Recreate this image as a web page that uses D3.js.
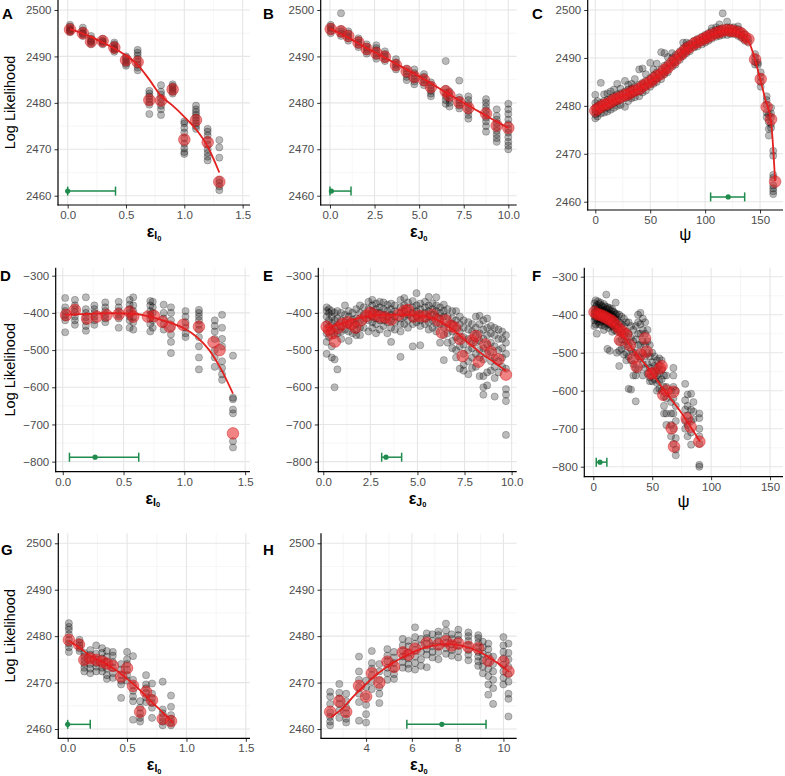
<!DOCTYPE html>
<html><head><meta charset="utf-8">
<script src="https://cdn.jsdelivr.net/npm/d3@7"></script>
<style>
body{margin:0;background:#fff;}
svg{display:block;font-family:"Liberation Sans",Arial,Helvetica,sans-serif;}
</style></head>
<body>
<svg id="chart" width="785" height="776"></svg>
<script>
// ---------------- DATA ----------------
const yTicksTop = [2460, 2470, 2480, 2490, 2500];
const yTicksMid = [-800, -700, -600, -500, -400, -300];
const xTicksEpsI = [0.0, 0.5, 1.0, 1.5];
const xTicksEpsJ = [0.0, 2.5, 5.0, 7.5, 10.0];
const xTicksPsi = [0, 50, 100, 150];
const xTicksEpsJ2 = [4, 6, 8, 10];
const panelLabels = ["A","B","C","D","E","F","G","H"];

// gray points: "x: y y y | x: y y ..."
const grayA = `0.02:2495.2 2495.6 2496.0 2496.4 2496.8 2495.8 2495.4|0.13:2494.4 2494.8 2495.2 2495.6 2496.2 2494.9|0.2:2492.6 2493.0 2493.4 2493.8 2494.4 2493.2|0.3:2492.6 2493.0 2493.4 2493.8 2493.2|0.4:2491.0 2491.4 2491.8 2492.2 2492.6 2493.0 2491.6|0.5:2488.0 2488.4 2488.8 2489.2 2489.6 2490.0|0.6:2487.0 2487.6 2488.2 2488.8 2489.4 2490.2 2490.8 2491.4|0.7:2477.6 2479.6 2480.2 2480.8 2481.4 2482.0 2482.6|0.8:2477.4 2478.6 2479.4 2480.2 2481.0 2481.8 2482.4 2483.8|0.9:2482.0 2482.4 2482.8 2483.2 2483.6 2484.0|1.0:2469.0 2469.4 2470.2 2471.2 2472.4 2473.6 2474.6 2475.6 2476.0|1.1:2474.4 2475.0 2475.6 2476.2 2476.8 2477.4 2478.0 2478.6 2479.4|1.2:2467.6 2468.4 2469.2 2470.0 2471.0 2472.0 2473.0 2473.8 2474.4|1.3:2461.2 2462.0 2462.8 2463.4 2468.2 2470.4 2472.0`;
const redAx = [0.02, 0.13, 0.2, 0.3, 0.4, 0.5, 0.6, 0.7, 0.8, 0.9, 1.0, 1.1, 1.2, 1.3];
const redAy = [2495.8, 2495.0, 2493.2, 2493.3, 2491.9, 2489.2, 2488.8, 2480.6, 2480.5, 2482.9, 2472.1, 2476.3, 2471.5, 2463.0];
const lineAx = [0.02, 0.1, 0.2, 0.3, 0.4, 0.5, 0.6, 0.7, 0.8, 0.9, 1.0, 1.1, 1.2, 1.3];
const lineAy = [2495.9, 2495.2, 2494.2, 2493.0, 2491.7, 2490.2, 2488.2, 2485.0, 2481.5, 2479.4, 2477.0, 2474.3, 2470.6, 2465.0];
const errA = [0.0, 0.0, 0.41, 2461]; // center, low, high, y

const grayB = `0.04:2495.0 2495.5 2496.0 2496.4 2496.8|0.62:2494.4 2494.9 2495.4 2495.9 2499.3|1.03:2493.4 2493.9 2494.4 2494.9 2495.4|1.6:2492.0 2492.5 2493.0 2493.5 2493.9|2.06:2490.6 2491.1 2491.6 2492.1 2492.6|2.6:2489.5 2490.1 2490.7 2491.3 2491.8 2492.4|3.08:2489.0 2489.5 2490.0 2490.5 2491.1|3.7:2487.2 2487.7 2488.2 2488.7 2489.4|4.3:2484.9 2485.6 2486.2 2486.8 2487.4|4.73:2484.0 2484.6 2485.2 2485.8 2486.4 2487.2|5.27:2483.8 2484.4 2485.0 2485.6 2486.2|5.66:2481.4 2482.0 2482.6 2483.2 2483.8 2484.4|6.49:2479.8 2480.6 2481.4 2482.2 2483.0 2489.0|6.7:2479.2 2480.0 2480.8 2481.6 2482.4|7.25:2478.8 2479.4 2480.0 2480.6 2481.2 2484.8|7.76:2476.6 2477.4 2478.2 2479.0 2479.8 2480.6 2481.4|8.75:2473.8 2475.0 2476.0 2476.8 2477.6 2478.4 2479.2 2480.0 2480.8|9.35:2471.6 2472.4 2473.2 2474.0 2474.8 2475.6 2476.4 2477.2 2478.6|10.0:2470.0 2470.8 2471.6 2472.6 2473.6 2474.4 2475.4 2476.4 2477.6 2478.6 2479.8`;
const redBx = [0.04, 0.62, 1.03, 1.6, 2.06, 2.6, 3.08, 3.7, 4.3, 4.73, 5.27, 5.66, 6.49, 6.7, 7.25, 7.76, 8.75, 9.35, 10.0];
const redBy = [2495.9, 2495.4, 2494.4, 2493.0, 2491.6, 2490.7, 2489.9, 2488.1, 2486.8, 2485.6, 2484.9, 2483.4, 2482.5, 2481.6, 2480.1, 2478.9, 2477.7, 2475.1, 2474.6];
const lineBx = [0, 1, 2, 3, 4, 5, 6, 7, 8, 9, 10];
const lineBy = [2496.0, 2494.1, 2491.9, 2489.9, 2487.8, 2485.7, 2483.4, 2481.1, 2478.9, 2476.7, 2474.6];
const errB = [0.08, 0.0, 1.18, 2461];

const grayC = `0:2477.4 2478.2 2478.8 2479.6 2480.6 2482.3|2:2477.8 2478.6 2480.0 2481.0|5:2478.4 2479.2 2480.6 2484.8|8:2478.6 2479.6 2481.0 2482.4|11:2478.8 2479.6 2481.2 2482.6|14:2479.2 2480.2 2481.6 2483.0|17:2479.6 2480.6 2482.0 2483.4|20:2480.0 2481.0 2482.4 2484.6|23:2480.2 2481.2 2482.6 2483.6|27:2479.8 2481.6 2483.0 2485.2|30:2481.0 2482.0 2483.4 2484.4|33:2481.6 2482.4 2483.6 2484.6|36:2481.8 2482.8 2484.0 2485.6|40:2482.0 2483.0 2484.4 2487.6|43:2482.8 2483.8 2484.8 2487.8|46:2483.2 2484.2 2485.2 2486.6|50:2484.0 2484.8 2485.8 2489.0|53:2484.6 2485.4 2486.4 2487.6|56:2485.0 2485.8 2487.0 2488.8|60:2485.6 2486.4 2487.6 2491.2|63:2486.6 2487.2 2488.4 2491.0|66:2487.0 2487.8 2488.8 2490.2|70:2488.2 2489.0 2490.0 2491.0|73:2488.6 2489.4 2490.6|77:2489.6 2490.4 2491.4|80:2490.4 2491.0 2492.0 2493.2|83:2491.0 2491.8 2492.6 2493.2|86:2491.4 2492.2 2493.0|90:2492.2 2492.8 2493.6|93:2492.4 2493.2 2494.0|97:2492.8 2493.6 2494.4|100:2493.2 2494.0 2494.8|103:2493.6 2494.4 2495.2|106:2494.0 2494.8 2495.6 2496.2|110:2494.4 2495.0 2495.8 2496.4|113:2494.6 2495.2 2496.0 2497.0|116:2494.8 2495.4 2496.2 2499.3|120:2494.8 2495.6 2496.4 2497.6|123:2495.0 2495.6 2496.4|126:2495.0 2495.6 2496.4|130:2494.6 2495.2 2496.0 2496.6|133:2494.2 2494.8 2495.6|136:2493.6 2494.2 2495.0|139.4:2493.2 2494.0|145.5:2488.6 2489.2 2490.0 2490.8|148:2488.6 2489.0|150.6:2484.0 2485.0 2486.0 2487.0|156:2477.6 2478.6 2480.2 2481.2 2482.0|158:2473.8 2475.2 2476.6 2478.2|160:2475.4 2476.2 2477.6 2478.4 2479.6|162:2461.6 2462.2 2462.8 2463.4 2465.0 2465.6 2469.6 2470.6`;
const redCx = [0, 2, 5, 8, 11, 14, 17, 20, 23, 27, 30, 33, 36, 40, 43, 46, 50, 53, 56, 60, 63, 66, 70, 73, 77, 80, 83, 86, 90, 93, 97, 100, 103, 106, 110, 113, 116, 120, 123, 126, 130, 133, 136, 139.4, 145.5, 150.6, 156, 160, 163.7];
const redCy = [2479.0, 2479.4, 2479.8, 2480.2, 2480.4, 2480.8, 2481.3, 2481.5, 2481.8, 2482.3, 2482.4, 2482.9, 2483.2, 2483.5, 2484.1, 2484.5, 2485.0, 2485.6, 2486.2, 2486.7, 2487.5, 2488.0, 2489.0, 2489.6, 2490.6, 2491.2, 2491.9, 2492.3, 2493.0, 2493.3, 2493.8, 2494.1, 2494.5, 2494.8, 2495.2, 2495.4, 2495.7, 2495.8, 2495.7, 2495.6, 2495.4, 2495.1, 2494.4, 2493.9, 2489.7, 2485.6, 2479.8, 2477.2, 2464.2];
const lineCx = [0, 10, 20, 30, 40, 50, 60, 70, 80, 90, 100, 110, 120, 130, 135, 140, 145, 150, 155, 160, 163.7];
const lineCy = [2479.2, 2480.3, 2481.5, 2482.5, 2483.6, 2485.0, 2486.8, 2489.0, 2491.3, 2493.0, 2494.2, 2495.2, 2495.8, 2495.3, 2494.6, 2493.3, 2490.0, 2485.7, 2481.2, 2476.8, 2464.3];
const errC = [121, 105, 136, 2461];

const grayD = `0.02:-360 -385 -395 -405 -412 -420 -452|0.1:-365 -380 -390 -398 -410 -420 -432|0.19:-358 -390 -400 -412 -422 -435 -448|0.26:-380 -390 -400 -410 -420 -432|0.35:-372 -385 -395 -405 -415 -425|0.46:-370 -385 -395 -405 -415 -440|0.55:-365 -378 -390 -400 -410 -420 -440|0.58:-358 -380 -395 -412 -425 -445|0.72:-368 -380 -395 -405 -415 -430 -450|0.74:-370 -385 -400 -420 -440|0.83:-378 -400 -415 -430 -445|0.89:-385 -400 -420 -440 -458 -478 -508|1.01:-395 -410 -425 -440 -455 -465|1.12:-392 -400 -410 -420 -432 -445 -465 -490 -520 -552|1.25:-420 -435 -450 -470 -500 -520 -545|1.31:-405 -440 -470 -490 -530 -548 -565 -580|1.4:-515 -628 -632 -660 -670 -745 -762`;
const redDx = [0.027, 0.1, 0.2, 0.28, 0.36, 0.46, 0.55, 0.58, 0.7, 0.75, 0.82, 0.88, 0.99, 1.12, 1.24, 1.29, 1.4];
const redDy = [-406, -392, -415, -410, -406, -404, -397, -410, -410, -408, -424, -437, -432, -437, -479, -500, -724];
const lineDx = [0.02, 0.2, 0.4, 0.6, 0.7, 0.8, 0.9, 1.0, 1.1, 1.2, 1.3, 1.4];
const lineDy = [-405, -403, -401, -403, -409, -418, -428, -442, -464, -498, -550, -617];
const errD = [0.266, 0.055, 0.625, -788];

const grayE = `0.18:-385 -395 -410 -430 -455 -478 -510|0.3:-390 -400 -420 -440 -465|0.45:-395 -410 -428 -450 -490 -520|0.6:-400 -420 -440 -460 -600 -525|0.75:-395 -415 -435 -455 -552|0.95:-400 -420 -438 -450 -470|1.15:-380 -405 -425 -445|1.35:-395 -410 -430 -450 -475|1.55:-400 -418 -435 -455|1.75:-390 -415 -430 -445 -460|1.95:-380 -400 -420 -440 -460|2.15:-385 -405 -420 -440|2.4:-370 -390 -405 -420 -450|2.6:-365 -380 -395 -410 -425 -440|2.8:-375 -390 -400 -415 -430 -455|3.0:-370 -385 -400 -420 -445|3.2:-372 -390 -405 -420 -435|3.4:-378 -395 -410 -425 -455|3.6:-375 -390 -405 -420 -440 -478|3.8:-380 -395 -410 -425 -445|4.1:-365 -385 -400 -415 -430 -450 -518|4.3:-360 -380 -395 -410 -430|4.5:-372 -390 -405 -420 -440|4.75:-368 -385 -400 -415 -430 -490|4.95:-347 -380 -395 -410 -425|5.15:-375 -390 -405 -420 -435 -487|5.4:-370 -385 -400 -415 -430|5.6:-357 -380 -395 -410 -425 -445|5.8:-375 -390 -405 -420 -440|6.0:-358 -380 -395 -410 -430 -450|6.2:-385 -400 -415 -430 -480|6.4:-378 -395 -410 -440 -460 -527|6.6:-390 -410 -430 -455 -480|6.85:-395 -415 -430 -450 -475 -495|7.05:-395 -420 -440 -465 -500 -520|7.25:-410 -430 -450 -470 -490 -550|7.45:-420 -440 -465 -485 -510 -540 -555|7.7:-425 -445 -470 -500 -530 -565|7.9:-430 -450 -475 -495 -520 -548|8.1:-410 -440 -460 -480 -510 -545|8.3:-408 -430 -455 -475 -500 -520 -570|8.5:-420 -445 -470 -495 -525 -570 -600 -620|8.7:-415 -440 -460 -485 -510 -560 -595|8.9:-435 -455 -480 -505 -530 -555|9.1:-440 -460 -490 -520 -545 -575 -625|9.3:-445 -470 -500 -530 -560|9.5:-450 -470 -495 -520 -545|9.7:-460 -480 -510 -550 -605 -620 -637 -728`;
const redEx = [0.18, 0.3, 0.45, 0.62, 0.8, 1.0, 1.3, 1.5, 1.7, 2.0, 2.3, 2.5, 2.7, 3.0, 3.3, 3.6, 4.0, 4.3, 4.5, 4.8, 5.1, 5.4, 5.8, 6.1, 6.3, 6.5, 6.8, 7.0, 7.25, 7.4, 7.9, 8.1, 8.25, 8.6, 8.9, 9.3, 9.7];
const redEy = [-437, -445, -455, -477, -440, -430, -425, -430, -440, -420, -408, -400, -405, -410, -412, -418, -405, -395, -392, -410, -408, -410, -405, -420, -453, -420, -435, -440, -470, -516, -475, -462, -531, -485, -505, -525, -566];
const lineEx = [0.18, 1, 2, 3, 4, 5, 6, 6.5, 7, 7.5, 8, 8.5, 9, 9.7];
const lineEy = [-440, -428, -413, -405, -405, -407, -418, -432, -450, -472, -493, -513, -530, -556];
const errE = [3.33, 3.1, 4.16, -788];

const grayF = `1:-370 -385 -395 -405 -415 -430|2:-362 -380 -392 -402 -412 -425|3:-375 -390 -400 -410 -450|4:-365 -382 -395 -405 -418|5:-372 -388 -400 -412 -425|6:-368 -385 -398 -410 -420|7:-376 -390 -402 -414 -428|8:-380 -392 -405 -418|9:-372 -388 -400 -412 -440|10:-378 -392 -405 -418 -430|11:-347 -385 -398 -410 -422|12:-380 -395 -408 -420 -490|13:-385 -400 -412 -425 -435|14:-382 -398 -410 -425 -495|15:-390 -402 -415 -430|16:-385 -400 -412 -428 -445|17:-392 -405 -418 -432|18:-395 -410 -425 -440|19:-368 -400 -415 -430|20:-398 -412 -428 -445 -500|22:-400 -420 -440 -470 -495 -535|24:-405 -425 -445 -465 -490|26:-410 -430 -455 -480 -505|28:-420 -445 -470 -500 -520|30:-420 -450 -480 -510 -595|32:-430 -460 -490 -520 -597|34:-440 -470 -500 -530 -560|36:-430 -465 -500 -540 -560 -628|38:-400 -420 -450 -480 -510 -545|40:-395 -425 -450 -480 -515|42:-410 -440 -470 -500 -530 -560|44:-420 -450 -480 -510 -540|46:-440 -470 -500 -530 -555|48:-480 -510 -540 -565 -575|50:-500 -525 -550 -575|52:-510 -535 -555 -570|54:-520 -540 -560 -580 -600|56:-515 -535 -555 -575 -595|58:-520 -545 -570 -600|60:-560 -590 -615 -640 -660|62:-560 -590 -620 -660 -690|66:-600 -630 -660 -690 -720|68:-540 -560 -590 -620 -660 -700 -740|70:-600 -640 -680 -725 -755 -770|78:-582 -625 -650 -680 -700|80:-610 -640 -665 -690 -720|83:-608 -650 -680 -710 -742|85:-630 -655 -675|90:-660 -672 -700 -720 -740 -795 -800`;
const redFx = [1, 3, 5, 7, 9, 11, 13, 15, 17, 20, 22.6, 22.6, 25, 28, 31, 34, 36.8, 40, 43.9, 45.3, 49, 50.4, 56.6, 58, 59.4, 62, 66.5, 68, 68.5, 79.3, 82.6, 90];
const redFy = [-393, -398, -400, -402, -405, -408, -412, -415, -420, -430, -440, -467, -445, -452, -480, -515, -537, -505, -462, -497, -555, -554, -541, -535, -611, -600, -699, -603, -747, -673, -695, -734];
const lineFx = [0.6, 11, 22, 34, 48, 59, 74, 90.5];
const lineFy = [-392, -410, -440, -493, -546, -594, -655, -734];
const errF = [5.7, 2.5, 11.5, -788];

const grayG = `0.01:2476.6 2477.6 2478.4 2479.2 2480.4 2481.4 2482.0 2482.8|0.1:2476.8 2477.4 2478.0 2478.6 2479.2|0.14:2472.4 2473.2 2474.0 2474.8 2475.6 2476.4|0.19:2472.0 2473.0 2474.0 2475.0 2476.0 2477.0|0.24:2472.4 2473.4 2474.2 2475.0 2476.2 2478.0|0.29:2472.4 2473.2 2474.2 2475.2 2476.4 2477.4|0.33:2470.8 2471.6 2473.0 2474.4 2475.6 2476.8|0.38:2471.0 2472.0 2473.2 2474.4 2475.8 2476.6|0.45:2466.7 2469.6 2470.4 2471.6 2472.8 2474.0|0.5:2470.4 2471.6 2472.8 2474.0 2475.0 2476.6|0.55:2462.0 2466.0 2467.0 2468.2 2469.4 2470.6 2475.7|0.61:2461.6 2462.4 2463.4 2464.6 2466.0|0.66:2465.8 2466.8 2467.8 2468.8 2469.6 2471.6|0.71:2462.4 2464.6 2465.6 2466.6 2467.6 2469.8|0.8:2460.8 2461.6 2462.4 2463.4 2464.2 2470.2|0.87:2460.8 2461.4 2462.2 2463.0 2464.8 2467.2`;
const redGx = [0.01, 0.095, 0.14, 0.19, 0.24, 0.29, 0.33, 0.38, 0.45, 0.5, 0.55, 0.61, 0.66, 0.71, 0.8, 0.87];
const redGy = [2479.2, 2478.2, 2474.9, 2475.2, 2474.9, 2474.5, 2474.1, 2473.6, 2471.3, 2473.1, 2469.3, 2463.7, 2468.0, 2466.2, 2462.2, 2461.7];
const lineGx = [0.01, 0.1, 0.2, 0.3, 0.4, 0.5, 0.6, 0.7, 0.8, 0.89];
const lineGy = [2479.0, 2477.5, 2475.6, 2474.3, 2472.8, 2470.8, 2468.6, 2466.0, 2463.6, 2461.3];
const errG = [0.0, 0.0, 0.19, 2461];

const grayH = `2.43:2460.8 2461.6 2462.6 2463.6 2465.4 2467.0 2468.0|2.83:2462.4 2464.0 2465.4 2466.6 2467.8 2469.7|3.13:2461.4 2462.2 2463.4 2464.6 2466.0 2467.6|3.69:2461.8 2465.8 2467.6 2469.0 2470.6 2472.4 2475.6|4.0:2461.4 2463.2 2465.2 2467.0 2469.0 2470.4|4.25:2468.6 2470.2 2471.6 2473.0 2474.2 2476.8|4.58:2465.6 2467.6 2469.0 2470.6 2472.4 2474.0|4.93:2470.6 2472.0 2473.2 2474.6 2475.8 2477.2|5.22:2470.8 2471.8 2473.0 2474.2 2475.4 2476.6|5.6:2473.2 2474.4 2475.6 2476.8 2478.0 2479.4|5.85:2473.0 2474.0 2475.2 2476.4 2477.8 2479.0|6.14:2472.8 2474.2 2475.6 2477.0 2478.4 2479.8 2481.9|6.4:2473.6 2475.0 2476.6 2478.0 2479.4|6.65:2473.3 2476.0 2477.2 2478.4 2479.6 2480.6|6.9:2475.4 2476.6 2477.8 2479.0 2480.4|7.16:2475.0 2476.6 2477.8 2479.0 2480.2 2481.0|7.49:2476.2 2477.4 2478.6 2479.8 2481.2 2482.7|7.74:2475.8 2477.0 2478.2 2479.4 2480.4|8.03:2475.4 2476.8 2478.0 2479.2 2480.2 2481.4|8.47:2474.8 2476.0 2477.0 2478.0 2479.0 2480.0 2480.8|8.9:2473.6 2474.6 2475.6 2476.6 2477.6 2478.6 2479.6 2480.2|9.1:2472.0 2473.4 2474.8 2476.2 2477.6 2478.8|9.34:2467.4 2469.6 2471.4 2473.0 2474.4 2475.8 2477.2 2478.4|9.55:2465.4 2468.8 2470.6 2472.4 2474.0 2475.6|10.0:2469.6 2471.0 2472.4 2473.8 2475.2 2476.6 2478.0 2479.8|10.22:2462.7 2466.5 2467.6 2470.2 2471.8 2473.4 2475.0 2476.4 2478.4`;
const redHx = [2.43, 2.83, 3.13, 3.69, 4.0, 4.25, 4.58, 4.93, 5.22, 5.6, 5.85, 6.14, 6.65, 7.16, 7.49, 7.74, 8.03, 8.47, 8.9, 9.34, 10.0, 10.22];
const redHy = [2463.7, 2466.0, 2463.7, 2469.3, 2467.0, 2472.0, 2470.0, 2474.5, 2473.4, 2476.5, 2476.0, 2477.3, 2478.5, 2478.2, 2478.9, 2478.0, 2478.4, 2477.7, 2477.4, 2474.7, 2474.5, 2472.4];
const lineHx = [2.47, 3, 3.5, 4, 4.5, 5, 5.5, 6, 6.5, 7, 7.5, 8, 8.5, 9, 9.5, 10, 10.25];
const lineHy = [2462.5, 2464.6, 2467.3, 2469.7, 2471.9, 2473.7, 2475.2, 2476.4, 2477.4, 2478.0, 2478.3, 2478.1, 2477.5, 2476.5, 2475.0, 2473.3, 2472.3];
const errH = [7.31, 5.78, 9.24, 2461];

// ---------------- LAYOUT ----------------
function parseGray(s){
  const out=[];
  s.split("|").forEach(g=>{
    const [xs, ys] = g.split(":");
    const x=+xs;
    ys.trim().split(/\s+/).forEach(v=>out.push({x, y:+v}));
  });
  return out;
}
const panels = [
  {gray:grayA, rx:redAx, ry:redAy, lx:lineAx, ly:lineAy, err:errA, xt:xTicksEpsI, yt:yTicksTop, xf:".1f", lab:"I", L:58, R:250, T:0, B:205, xd:[-0.083,1.563], yd:[2458.0,2502.15], ylab:true, pl:[2,19]},
  {gray:grayB, rx:redBx, ry:redBy, lx:lineBx, ly:lineBy, err:errB, xt:xTicksEpsJ, yt:yTicksTop, xf:".1f", lab:"J", L:320.7, R:516.7, T:0, B:205, xd:[-0.52,10.47], yd:[2458.0,2502.15], pl:[263,19]},
  {gray:grayC, rx:redCx, ry:redCy, lx:lineCx, ly:lineCy, err:errC, xt:xTicksPsi, yt:yTicksTop, xf:"d", lab:"psi", L:587.7, R:783, T:0, B:210, xd:[-6.92,170.9], yd:[2458.27,2502.09], pl:[532,19]},
  {gray:grayD, rx:redDx, ry:redDy, lx:lineDx, ly:lineDy, err:errD, xt:xTicksEpsI, yt:yTicksMid, xf:".1f", lab:"I", L:55.7, R:250, T:267.7, B:471.7, xd:[-0.058,1.54], yd:[-827,-278.5], ylab:true, pl:[0,281]},
  {gray:grayE, rx:redEx, ry:redEy, lx:lineEx, ly:lineEy, err:errE, xt:xTicksEpsJ, yt:yTicksMid, xf:".1f", lab:"J", L:318.3, R:516.7, T:267.7, B:471.7, xd:[-0.265,10.27], yd:[-827,-278.5], pl:[263,281]},
  {gray:grayF, rx:redFx, ry:redFy, lx:lineFx, ly:lineFy, err:errF, xt:xTicksPsi, yt:yTicksMid, xf:"d", lab:"psi", L:584.3, R:783, T:267.7, B:476.7, xd:[-7.64,161], yd:[-826.3,-276.3], pl:[532,281]},
  {gray:grayG, rx:redGx, ry:redGy, lx:lineGx, ly:lineGy, err:errG, xt:xTicksEpsI, yt:yTicksTop, xf:".1f", lab:"I", L:58.3, R:250, T:533.3, B:738.3, xd:[-0.079,1.535], yd:[2458.0,2502.15], ylab:true, pl:[1,555]},
  {gray:grayH, rx:redHx, ry:redHy, lx:lineHx, ly:lineHy, err:errH, xt:xTicksEpsJ2, yt:yTicksTop, xf:"d", lab:"J", L:321, R:516.7, T:533.3, B:738.3, xd:[2.03,10.58], yd:[2458.0,2502.15], pl:[263,555]}
];

const svg = d3.select("#chart");
const GREEN = "#1f8b4c";

panels.forEach((p,i)=>{
  const x = d3.scaleLinear().domain(p.xd).range([p.L, p.R]);
  const y = d3.scaleLinear().domain(p.yd).range([p.B, p.T]);
  const g = svg.append("g");
  // minor grid
  const xStep = p.xt[1]-p.xt[0], yStep = p.yt[1]-p.yt[0];
  const xMinor=[], yMinor=[];
  for(let k=-2;k<p.xt.length+2;k++){ const v=p.xt[0]+(k-0.5)*xStep; if(v>p.xd[0]&&v<p.xd[1]) xMinor.push(v);}
  for(let k=-2;k<p.yt.length+2;k++){ const v=p.yt[0]+(k-0.5)*yStep; if(v>p.yd[0]&&v<p.yd[1]) yMinor.push(v);}
  g.selectAll(".xm").data(xMinor).enter().append("line")
    .attr("x1",d=>x(d)).attr("x2",d=>x(d)).attr("y1",p.T).attr("y2",p.B)
    .attr("stroke","#f2f2f2").attr("stroke-width",0.7);
  g.selectAll(".ym").data(yMinor).enter().append("line")
    .attr("y1",d=>y(d)).attr("y2",d=>y(d)).attr("x1",p.L).attr("x2",p.R)
    .attr("stroke","#f2f2f2").attr("stroke-width",0.7);
  g.selectAll(".xg").data(p.xt).enter().append("line")
    .attr("x1",d=>x(d)).attr("x2",d=>x(d)).attr("y1",p.T).attr("y2",p.B)
    .attr("stroke","#e6e6e6").attr("stroke-width",1.1);
  g.selectAll(".yg").data(p.yt).enter().append("line")
    .attr("y1",d=>y(d)).attr("y2",d=>y(d)).attr("x1",p.L).attr("x2",p.R)
    .attr("stroke","#e6e6e6").attr("stroke-width",1.1);

  // gray points
  const gp = parseGray(p.gray);
  g.selectAll(".gp").data(gp).enter().append("circle")
    .attr("cx",d=>x(d.x)).attr("cy",d=>y(d.y)).attr("r",3.6)
    .attr("fill","rgba(0,0,0,0.27)").attr("stroke","rgba(0,0,0,0.28)").attr("stroke-width",0.8);

  // red line
  const ld = p.lx.map((v,k)=>[v,p.ly[k]]);
  g.append("path").datum(ld)
    .attr("d", d3.line().x(d=>x(d[0])).y(d=>y(d[1])).curve(d3.curveMonotoneX))
    .attr("fill","none").attr("stroke","#e3211f").attr("stroke-width",1.8);

  // red points
  const rd = p.rx.map((v,k)=>({x:v,y:p.ry[k]}));
  g.selectAll(".rp").data(rd).enter().append("circle")
    .attr("cx",d=>x(d.x)).attr("cy",d=>y(d.y)).attr("r",5.8)
    .attr("fill","rgba(232,30,32,0.55)").attr("stroke","rgba(200,20,20,0.45)").attr("stroke-width",1);

  // green error bar
  const [ec, elo, ehi, ey] = p.err;
  g.append("line").attr("x1",x(elo)).attr("x2",x(ehi)).attr("y1",y(ey)).attr("y2",y(ey))
    .attr("stroke",GREEN).attr("stroke-width",1.5);
  [elo, ehi].forEach(v=>g.append("line").attr("x1",x(v)).attr("x2",x(v)).attr("y1",y(ey)-4.5).attr("y2",y(ey)+4.5)
    .attr("stroke",GREEN).attr("stroke-width",1.5));
  g.append("circle").attr("cx",x(ec)).attr("cy",y(ey)).attr("r",2.6).attr("fill",GREEN);

  // axes
  const xa = g.append("g").attr("transform",`translate(0,${p.B})`)
    .call(d3.axisBottom(x).tickValues(p.xt).tickFormat(d3.format(p.xf)).tickSize(3.5).tickPadding(2.5).tickSizeOuter(0));
  const ya = g.append("g").attr("transform",`translate(${p.L},0)`)
    .call(d3.axisLeft(y).tickValues(p.yt).tickFormat(d3.format("d")).tickSize(3.5).tickPadding(3).tickSizeOuter(0));
  [xa,ya].forEach(a=>{
    a.select(".domain").remove();
    a.selectAll(".tick line").attr("stroke","#333").attr("stroke-width",1);
    a.selectAll(".tick text").attr("fill","#4d4d4d").style("font-size","11.5px")
      .style("font-family",'"Liberation Sans",Arial,sans-serif');
  });
  g.append("line").attr("x1",p.L).attr("x2",p.L).attr("y1",p.T).attr("y2",p.B+0.5).attr("stroke","#000").attr("stroke-width",1.2);
  g.append("line").attr("x1",p.L-0.5).attr("x2",p.R).attr("y1",p.B).attr("y2",p.B).attr("stroke","#000").attr("stroke-width",1.2);

  // x title
  const cx = (p.L+p.R)/2;
  if(p.lab==="psi"){
    g.append("text").attr("x",cx).attr("y",p.B+30).attr("text-anchor","middle")
      .style("font-size","17px").attr("fill","#000").text("ψ");
  } else {
    const t = g.append("text").attr("x",cx).attr("y",p.B+32).attr("text-anchor","middle").attr("fill","#000");
    t.append("tspan").style("font-size","16px").style("font-weight","bold").text("ε");
    t.append("tspan").style("font-size","10.5px").style("font-weight","bold").attr("dy",2).text(p.lab);
    t.append("tspan").style("font-size","7.5px").style("font-weight","bold").attr("dy",1.5).text("0");
  }
  // y title
  if(p.ylab){
    g.append("text").attr("transform",`translate(15,${(p.T+p.B)/2}) rotate(-90)`)
      .attr("text-anchor","middle").style("font-size","14.5px").attr("fill","#000").text("Log Likelihood");
  }
  // panel label
  g.append("text").attr("x",p.pl[0]).attr("y",p.pl[1]).style("font-size","15px").style("font-weight","bold")
    .attr("fill","#000").text(panelLabels[i]);
});
</script>
</body></html>
